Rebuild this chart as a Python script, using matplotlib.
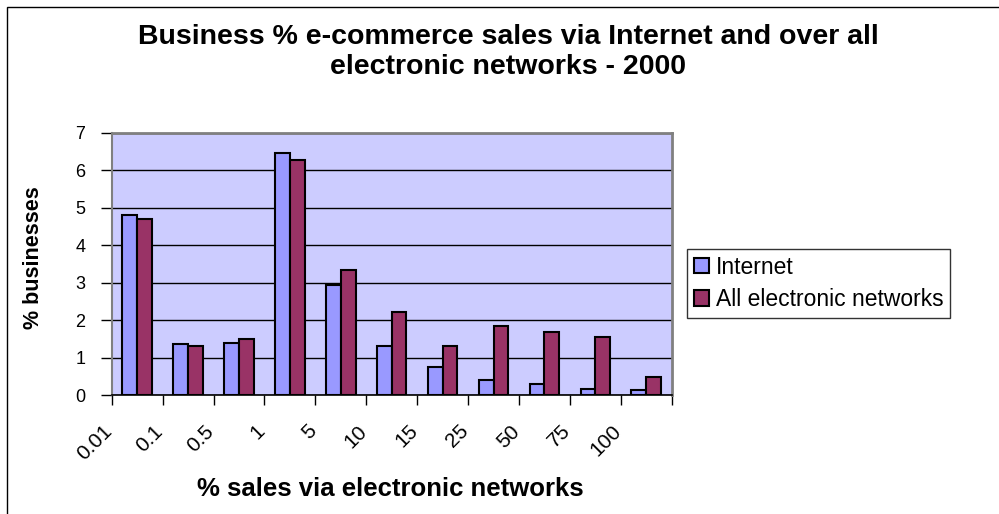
import numpy as np
import matplotlib
matplotlib.use("Agg")
import matplotlib.pyplot as plt
import matplotlib.transforms as mtransforms
from matplotlib.patches import Rectangle

# -----------------------------
# datos
# -----------------------------
categorias = ["0.01", "0.1", "0.5", "1", "5", "10", "15", "25", "50", "75", "100"]
internet = [4.81, 1.37, 1.40, 6.46, 2.93, 1.31, 0.75, 0.41, 0.29, 0.15, 0.13]
todas_redes = [4.69, 1.32, 1.50, 6.27, 3.34, 2.22, 1.31, 1.85, 1.69, 1.55, 0.49]

titulo = "Business % e-commerce sales via Internet and over all\nelectronic networks - 2000"
eje_x = "% sales via electronic networks"
eje_y = "% businesses"
series = ["Internet", "All electronic networks"]

plt.rcParams["font.family"] = ["Liberation Sans", "DejaVu Sans"]

W, H = 999, 514
fig = plt.figure(figsize=(W / 100, H / 100), dpi=100)

# marco del grafico (borde de la hoja de Excel)
fig.patches.append(Rectangle((7 / W, -0.1), 1.2, 1 - 7 / H + 0.1, transform=fig.transFigure,
                             fill=False, edgecolor="black", linewidth=1.0))

ax = fig.add_axes([111.7 / W, 1 - 395 / H, 560 / W, (395 - 132.7) / H])
ax.set_facecolor("#CCCCFF")

x = np.arange(len(categorias))
ancho = 0.29
ax.bar(x - ancho / 2, internet, ancho, color="#9999FF", edgecolor="black",
       linewidth=1.5, label=series[0], zorder=3)
ax.bar(x + ancho / 2, todas_redes, ancho, color="#993366", edgecolor="black",
       linewidth=1.5, label=series[1], zorder=3)

ax.set_xlim(-0.5, len(categorias) - 0.5)
ax.set_ylim(0, 7)
ax.set_yticks(range(8))
ax.yaxis.grid(True, color="black", linewidth=1.0, zorder=1)
ax.tick_params(axis="y", length=8, width=1, pad=11, labelsize=13)

# Excel deja las etiquetas en los limites de cada categoria
ax.set_xticks(x - 0.5)
ax.set_xticklabels(categorias)
ax.set_xticks([len(categorias) - 0.5], minor=True)
ax.tick_params(axis="x", which="both", length=7, width=1)
ax.tick_params(axis="x", which="major", pad=12, labelsize=15)
desplaza = mtransforms.ScaledTranslation(-9 / 100, 0, fig.dpi_scale_trans)
for etiqueta in ax.get_xticklabels():
    etiqueta.set_rotation(45)
    etiqueta.set_ha("right")
    etiqueta.set_va("top")
    etiqueta.set_rotation_mode("anchor")
    etiqueta.set_transform(etiqueta.get_transform() + desplaza)

for lado in ["top", "right"]:
    ax.spines[lado].set_color("#808080")
    ax.spines[lado].set_linewidth(2)
ax.spines["left"].set_color("#808080")
ax.spines["left"].set_linewidth(1.5)
ax.spines["bottom"].set_color("black")
ax.spines["bottom"].set_linewidth(1.2)
ax.spines["bottom"].set_zorder(4)

ax.set_ylabel(eje_y, fontsize=15.5, fontweight="bold", va="center")
ax.yaxis.set_label_coords((33 - 111.7) / 560, (395 - 258) / 262.3)
ax.set_xlabel(eje_x, fontsize=18.5, fontweight="bold", va="center")
ax.xaxis.set_label_coords((390 - 111.7) / 560, -(489 - 395) / 262.3)

fig.text(508 / W, 1 - 52 / H, titulo, ha="center", va="center", fontsize=20.5,
         fontweight="bold", linespacing=1.22)

leg = fig.legend(loc="upper left", bbox_to_anchor=(687 / W, 1 - 249 / H), fontsize=16.5,
                 frameon=True, fancybox=False, shadow=False, handlelength=0.65,
                 handleheight=0.65, handletextpad=0.3, borderpad=0.3,
                 labelspacing=0.4, borderaxespad=0)
leg.get_frame().set_edgecolor("black")
leg.get_frame().set_linewidth(1.0)

fig.savefig("out.png", dpi=100)
